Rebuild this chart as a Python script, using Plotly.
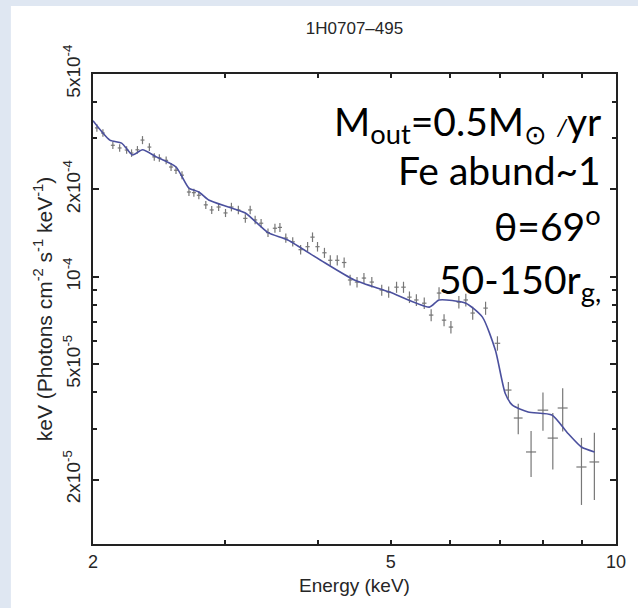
import plotly.graph_objects as go

# ---- data ----
energy = [2.024, 2.062, 2.126, 2.171, 2.218, 2.252, 2.293, 2.329, 2.379, 2.415,
          2.453, 2.505, 2.543, 2.582, 2.630, 2.687, 2.728, 2.770, 2.830, 2.882,
          2.944, 3.007, 3.062, 3.128, 3.196, 3.244, 3.294, 3.355, 3.427, 3.501,
          3.555, 3.620, 3.698, 3.789, 3.871, 3.930, 3.991, 4.077, 4.151, 4.241,
          4.332, 4.412, 4.507, 4.604, 4.717, 4.863, 4.968, 5.090, 5.200, 5.296,
          5.410, 5.543, 5.662, 5.801, 5.891, 6.017, 6.166, 6.299, 6.434, 6.694,
          6.943, 7.180, 7.402, 7.700, 7.987, 8.233, 8.487, 8.992, 9.356]
flux = [3.26e-4, 3.13e-4, 2.84e-4, 2.78e-4, 2.735e-4, 2.67e-4, 2.74e-4, 2.96e-4, 2.80e-4, 2.59e-4,
        2.57e-4, 2.52e-4, 2.39e-4, 2.33e-4, 2.24e-4, 1.96e-4, 1.95e-4, 1.91e-4, 1.77e-4, 1.70e-4,
        1.74e-4, 1.66e-4, 1.74e-4, 1.70e-4, 1.59e-4, 1.70e-4, 1.57e-4, 1.53e-4, 1.42e-4, 1.47e-4,
        1.48e-4, 1.36e-4, 1.32e-4, 1.24e-4, 1.27e-4, 1.37e-4, 1.27e-4, 1.21e-4, 1.14e-4, 1.14e-4,
        1.12e-4, 9.75e-5, 9.59e-5, 9.90e-5, 9.59e-5, 9.00e-5, 8.86e-5, 9.21e-5, 9.21e-5, 8.51e-5,
        8.32e-5, 8.11e-5, 7.38e-5, 8.79e-5, 7.09e-5, 6.71e-5, 8.18e-5, 8.32e-5, 7.50e-5, 7.80e-5,
        5.90e-5, 4.07e-5, 3.26e-5, 2.49e-5, 3.47e-5, 2.78e-5, 3.53e-5, 2.21e-5, 2.30e-5]
rel_err = [0.030, 0.030, 0.030, 0.030, 0.030, 0.030, 0.030, 0.032, 0.030, 0.030,
           0.030, 0.030, 0.032, 0.030, 0.032, 0.032, 0.032, 0.032, 0.032, 0.032,
           0.032, 0.032, 0.034, 0.034, 0.034, 0.034, 0.034, 0.034, 0.034, 0.036,
           0.036, 0.036, 0.036, 0.038, 0.038, 0.038, 0.038, 0.040, 0.040, 0.040,
           0.040, 0.042, 0.042, 0.042, 0.042, 0.044, 0.044, 0.044, 0.044, 0.046,
           0.046, 0.046, 0.048, 0.048, 0.048, 0.050, 0.050, 0.050, 0.052, 0.052,
           0.057, 0.066, 0.120, 0.180, 0.150, 0.220, 0.170, 0.260, 0.260]
e_half = [0.012, 0.012, 0.013, 0.013, 0.013, 0.013, 0.014, 0.014, 0.014, 0.015,
          0.015, 0.015, 0.016, 0.016, 0.016, 0.017, 0.017, 0.017, 0.018, 0.018,
          0.019, 0.019, 0.020, 0.020, 0.021, 0.021, 0.021, 0.022, 0.022, 0.023,
          0.023, 0.024, 0.024, 0.025, 0.025, 0.026, 0.026, 0.027, 0.027, 0.028,
          0.030, 0.030, 0.031, 0.031, 0.032, 0.033, 0.034, 0.035, 0.036, 0.036,
          0.037, 0.038, 0.039, 0.040, 0.040, 0.041, 0.042, 0.043, 0.044, 0.046,
          0.060, 0.070, 0.100, 0.120, 0.130, 0.130, 0.130, 0.140, 0.140]

model_energy = [2.0, 2.106, 2.184, 2.259, 2.329, 2.43, 2.582, 2.687, 2.77, 2.855,
                3.034, 3.196, 3.427, 3.642, 4.03, 4.47, 4.98, 5.63, 5.80, 6.30,
                6.63, 6.90, 7.11, 7.27, 7.63, 8.21, 8.62, 8.99, 9.36]
model_flux = [3.45e-4, 2.96e-4, 2.89e-4, 2.63e-4, 2.74e-4, 2.59e-4, 2.39e-4, 2.02e-4, 1.96e-4, 1.84e-4,
              1.74e-4, 1.66e-4, 1.42e-4, 1.34e-4, 1.14e-4, 9.75e-5, 8.86e-5, 7.86e-5, 8.32e-5, 8.11e-5,
              7.26e-5, 5.58e-5, 3.97e-5, 3.61e-5, 3.42e-5, 3.34e-5, 2.89e-5, 2.59e-5, 2.49e-5]

x_tickvals = [2, 3, 4, 5, 6, 7, 8, 9, 10]
x_ticktext = ["2", "", "", "5", "", "", "", "", "10"]
y_tickvals = [2e-5, 5e-5, 1e-4, 2e-4, 5e-4]
y_ticktext = ["2x10<sup>-5</sup>", "5x10<sup>-5</sup>", "10<sup>-4</sup>",
              "2x10<sup>-4</sup>", "5x10<sup>-4</sup>"]
y_minor = [3e-5, 4e-5, 6e-5, 7e-5, 8e-5, 9e-5, 3e-4, 4e-4]

title_text = "1H0707\u2013495"
x_title = "Energy (keV)"
y_title = "keV (Photons cm<sup>-2</sup> s<sup>-1</sup> keV<sup>-1</sup>)"
notes = ["M<sub>out</sub>=0.5M<sub>\u2299</sub> <i><span style='font-size:24px'>/</span></i>yr",
         "Fe abund~1",
         "\u03b8=69<sup>o</sup>",
         "50-150r<sub>g,</sub>"]
note_y = [0.893, 0.795, 0.681, 0.558]

# ---- figure ----
fig = go.Figure()
fig.add_trace(go.Scatter(
    x=energy, y=flux, mode="markers",
    marker=dict(size=1, color="#7a7a7a"),
    error_y=dict(type="data", array=[f * r for f, r in zip(flux, rel_err)],
                 arrayminus=[f * r for f, r in zip(flux, rel_err)],
                 width=0, thickness=1.2, color="#777777"),
    error_x=dict(type="data", array=e_half, width=0, thickness=1.2, color="#777777"),
    showlegend=False, hoverinfo="skip"))
fig.add_trace(go.Scatter(
    x=model_energy, y=model_flux, mode="lines",
    line=dict(color="#4b509e", width=1.6, shape="spline", smoothing=0.6),
    showlegend=False, hoverinfo="skip"))

fam = "Liberation Sans, Arial, sans-serif"
txt_col = "#262626"

fig.update_xaxes(type="log", range=[0.30103, 1.0],
                 tickvals=x_tickvals, ticktext=x_ticktext,
                 ticks="inside", ticklen=4, tickwidth=1.5, tickcolor="#222",
                 showline=True, linecolor="#222", linewidth=2, mirror="ticks",
                 showgrid=False, zeroline=False,
                 tickfont=dict(family=fam, size=18, color=txt_col),
                 title=dict(text=x_title, font=dict(family=fam, size=19, color=txt_col), standoff=8))
fig.update_yaxes(type="log", range=[-4.921, -3.301],
                 tickvals=y_tickvals, ticktext=y_ticktext, tickangle=-90,
                 ticks="inside", ticklen=6, tickwidth=1.5, tickcolor="#222",
                 minor=dict(tickvals=y_minor, ticks="inside", ticklen=4, tickcolor="#222"),
                 showline=True, linecolor="#222", linewidth=2, mirror="ticks",
                 showgrid=False, zeroline=False,
                 tickfont=dict(family=fam, size=19, color=txt_col),
                 ticklabelstandoff=3,
                 title=dict(text=y_title, font=dict(family=fam, size=21, color=txt_col), standoff=2))

for txt, yy in zip(notes, note_y):
    fig.add_annotation(text=txt, xref="paper", yref="paper", x=0.975, y=yy,
                       xanchor="right", yanchor="middle", showarrow=False,
                       font=dict(family="Lato, sans-serif", size=39, color="#000"))

fig.add_shape(type="rect", xref="paper", yref="paper", x0=-0.157, x1=1.08, y0=-0.15, y1=1.1447,
              fillcolor="white", line=dict(width=0), layer="below")

fig.update_layout(
    width=638, height=608,
    margin=dict(l=93, r=16, t=74, b=64),
    paper_bgcolor="#dfe7f2", plot_bgcolor="white",
    title=dict(text=title_text, x=0.5, xref="paper", y=1 - 28 / 608, yanchor="middle",
               font=dict(family=fam, size=17, color=txt_col)),
)

fig.write_html("out.html")
